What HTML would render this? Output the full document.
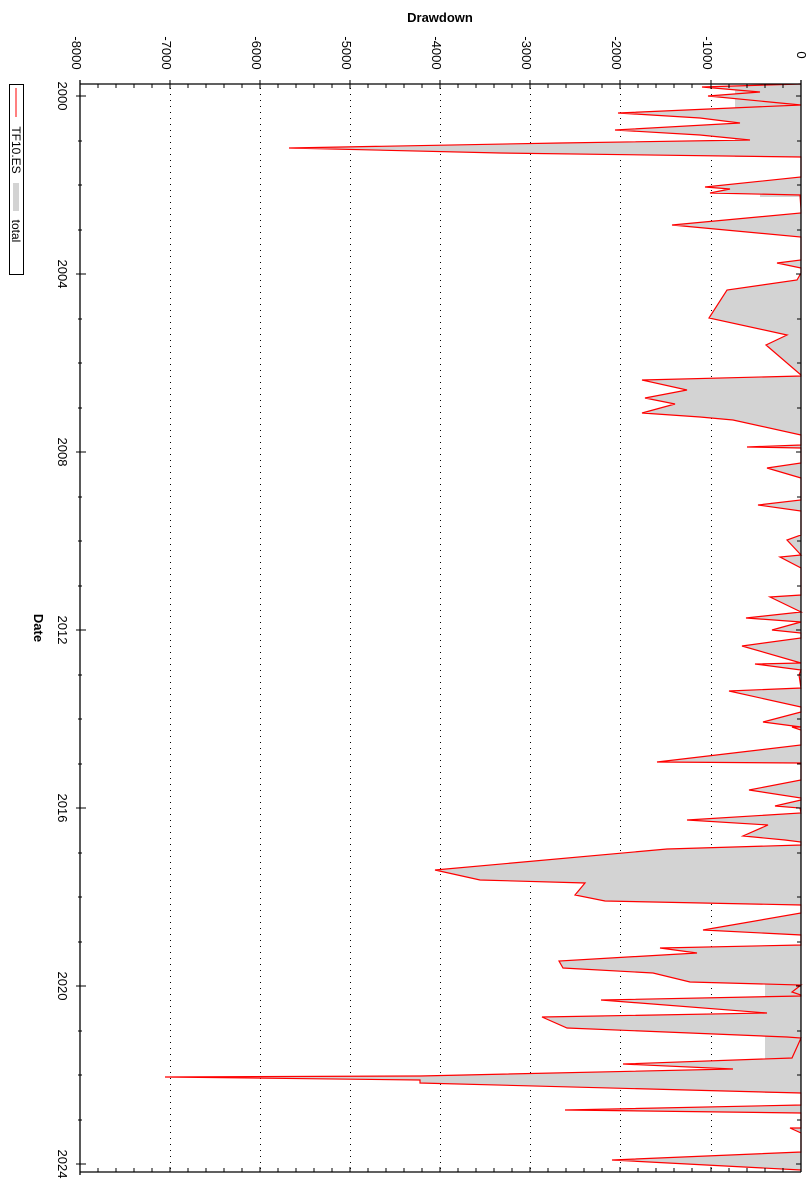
<!DOCTYPE html>
<html><head><meta charset="utf-8"><style>body{margin:0;background:#fff}svg{display:block}</style></head>
<body>
<svg width="812" height="1200" xmlns="http://www.w3.org/2000/svg" font-family="Liberation Sans, sans-serif">
<rect width="812" height="1200" fill="#fff"/>
<g stroke="#000" stroke-dasharray="1,5" stroke-width="1">
<line x1="170.5" y1="88" x2="170.5" y2="1170"/><line x1="260.5" y1="88" x2="260.5" y2="1170"/>
<line x1="350.5" y1="88" x2="350.5" y2="1170"/><line x1="440.5" y1="88" x2="440.5" y2="1170"/>
<line x1="530.5" y1="88" x2="530.5" y2="1170"/><line x1="620.5" y1="88" x2="620.5" y2="1170"/>
<line x1="711.5" y1="88" x2="711.5" y2="1170"/>
</g>
<g id="d">
<rect x="735" y="86" width="66" height="71" fill="#d3d3d3"/>
<rect x="765" y="946" width="36" height="147" fill="#d3d3d3"/>
<rect x="760" y="185" width="41" height="12" fill="#d3d3d3"/>
<polygon fill="#d3d3d3" stroke="none" points="801,84 702,87 760,92 708,96 801,105 618,113 700,118 740,123 615,130 700,135 750,140 560,143 289,148 500,153 801,157 801,177 705,187 730,189 710,193 800,195 801,210 801,213 672,225 801,237 801,260 777,263 801,268 801,273 797,280 727,290 709,318 787,335 766,345 801,375 801,376 642,380 687,390 645,398 675,404 642,413 700,417 733,420 801,435 801,445 747,447 801,448 801,463 767,468 801,478 801,500 758,505 801,511 801,535 787,540 801,555 780,557 801,568 801,595 770,597 801,612 746,618 801,622 790,625 772,630 801,633 801,638 742,646 801,663 755,664 801,670 799,675 801,688 729,691 801,707 801,712 763,722 801,727 792,727 801,730 801,745 657,762 801,763 801,780 749,790 801,798 801,800 775,806 800,808 801,813 687,820 768,825 743,836 785,840 801,842 801,845 667,849 435,870 480,880 585,883 575,895 605,901 801,905 801,913 703,930 801,935 801,945 660,948 697,953 559,961 563,968 653,973 690,982 801,985 792,992 801,995 801,996 601,1000 767,1013 542,1017 567,1028 787,1037 801,1038 797,1047 792,1058 623,1064 733,1069 420,1076 165,1077 420,1080 420,1083 801,1093 801,1105 565,1110 801,1113 801,1128 790,1128 801,1133 801,1152 612,1160 801,1170"/>
<polyline fill="none" stroke="#f00" stroke-width="1.2" points="801,84 702,87 760,92 708,96 801,105 618,113 700,118 740,123 615,130 700,135 750,140 560,143 289,148 500,153 801,157 801,177 705,187 730,189 710,193 800,195 801,210 801,213 672,225 801,237 801,260 777,263 801,268 801,273 797,280 727,290 709,318 787,335 766,345 801,375 801,376 642,380 687,390 645,398 675,404 642,413 700,417 733,420 801,435 801,445 747,447 801,448 801,463 767,468 801,478 801,500 758,505 801,511 801,535 787,540 801,555 780,557 801,568 801,595 770,597 801,612 746,618 801,622 790,625 772,630 801,633 801,638 742,646 801,663 755,664 801,670 799,675 801,688 729,691 801,707 801,712 763,722 801,727 792,727 801,730 801,745 657,762 801,763 801,780 749,790 801,798 801,800 775,806 800,808 801,813 687,820 768,825 743,836 785,840 801,842 801,845 667,849 435,870 480,880 585,883 575,895 605,901 801,905 801,913 703,930 801,935 801,945 660,948 697,953 559,961 563,968 653,973 690,982 801,985 792,992 801,995 801,996 601,1000 767,1013 542,1017 567,1028 787,1037 801,1038 797,1047 792,1058 623,1064 733,1069 420,1076 165,1077 420,1080 420,1083 801,1093 801,1105 565,1110 801,1113 801,1128 790,1128 801,1133 801,1152 612,1160 801,1170"/>
</g>
<g stroke="#000" stroke-width="1.3" fill="none">
<line x1="80" y1="84" x2="801" y2="84"/>
<line x1="80" y1="1172" x2="801" y2="1172"/>
<line x1="80" y1="80" x2="80" y2="1175"/>
<line x1="801" y1="80" x2="801" y2="1172"/>
</g>
<g stroke="#000" stroke-width="1">
<path d="M80,80V89M98,84V88M116,84V88M134,84V88M152,84V88M170,80V89M188,84V88M206,84V88M224,84V88M242,84V88M260,80V89M278,84V88M296,84V88M314,84V88M332,84V88M350,80V89M368,84V88M386,84V88M404,84V88M422,84V88M440,80V89M458,84V88M476,84V88M494,84V88M512,84V88M530,80V89M548,84V88M566,84V88M584,84V88M602,84V88M620,80V89M638,84V88M656,84V88M674,84V88M692,84V88M711,80V89M729,84V88M747,84V88M765,84V88M783,84V88"/>
<path d="M80,1172V1167M98,1172V1168M116,1172V1168M134,1172V1168M152,1172V1168M170,1172V1167M188,1172V1168M206,1172V1168M224,1172V1168M242,1172V1168M260,1172V1167M278,1172V1168M296,1172V1168M314,1172V1168M332,1172V1168M350,1172V1167M368,1172V1168M386,1172V1168M404,1172V1168M422,1172V1168M440,1172V1167M458,1172V1168M476,1172V1168M494,1172V1168M512,1172V1168M530,1172V1167M548,1172V1168M566,1172V1168M584,1172V1168M602,1172V1168M620,1172V1167M638,1172V1168M656,1172V1168M674,1172V1168M692,1172V1168M711,1172V1167M729,1172V1168M747,1172V1168M765,1172V1168M783,1172V1168"/>
<path d="M76,96H86M78,141H82M78,185H82M78,230H82M76,274H86M78,319H82M78,363H82M78,408H82M76,452H86M78,497H82M78,541H82M78,586H82M76,630H86M78,675H82M78,719H82M78,764H82M76,808H86M78,853H82M78,897H82M78,942H82M76,986H86M78,1031H82M78,1075H82M78,1120H82M76,1164H86"/>
<path d="M801,96H796M801,141H797M801,185H797M801,230H797M801,274H796M801,319H797M801,363H797M801,408H797M801,452H796M801,497H797M801,541H797M801,586H797M801,630H796M801,675H797M801,719H797M801,764H797M801,808H796M801,853H797M801,897H797M801,942H797M801,986H796M801,1031H797M801,1075H797M801,1120H797M801,1164H796"/>
</g>
<g font-size="13" fill="#000" text-anchor="middle">
<text transform="translate(76,53) rotate(90)" dy="4">-8000</text>
<text transform="translate(166,53) rotate(90)" dy="4">-7000</text>
<text transform="translate(256,53) rotate(90)" dy="4">-6000</text>
<text transform="translate(346,53) rotate(90)" dy="4">-5000</text>
<text transform="translate(436,53) rotate(90)" dy="4">-4000</text>
<text transform="translate(526,53) rotate(90)" dy="4">-3000</text>
<text transform="translate(616,53) rotate(90)" dy="4">-2000</text>
<text transform="translate(707,53) rotate(90)" dy="4">-1000</text>
<text transform="translate(801,55) rotate(90)" dy="4">0</text>
<text transform="translate(62,96) rotate(90)" dy="4">2000</text>
<text transform="translate(62,274) rotate(90)" dy="4">2004</text>
<text transform="translate(62,452) rotate(90)" dy="4">2008</text>
<text transform="translate(62,630) rotate(90)" dy="4">2012</text>
<text transform="translate(62,808) rotate(90)" dy="4">2016</text>
<text transform="translate(62,986) rotate(90)" dy="4">2020</text>
<text transform="translate(62,1164) rotate(90)" dy="4">2024</text>
</g>
<text x="440" y="22" font-size="13" font-weight="bold" text-anchor="middle">Drawdown</text>
<text transform="translate(38,628) rotate(90)" dy="4" font-size="13" font-weight="bold" text-anchor="middle">Date</text>
<rect x="9.5" y="84.5" width="14" height="190" fill="#fff" stroke="#000"/>
<line x1="16" y1="88" x2="16" y2="117" stroke="#f00"/>
<text transform="translate(16,150) rotate(90)" dy="4" font-size="12" text-anchor="middle">TF10.ES</text>
<rect x="13" y="183" width="6" height="28" fill="#d3d3d3"/>
<text transform="translate(16,231) rotate(90)" dy="4" font-size="12" text-anchor="middle">total</text>
</svg>
</body></html>
